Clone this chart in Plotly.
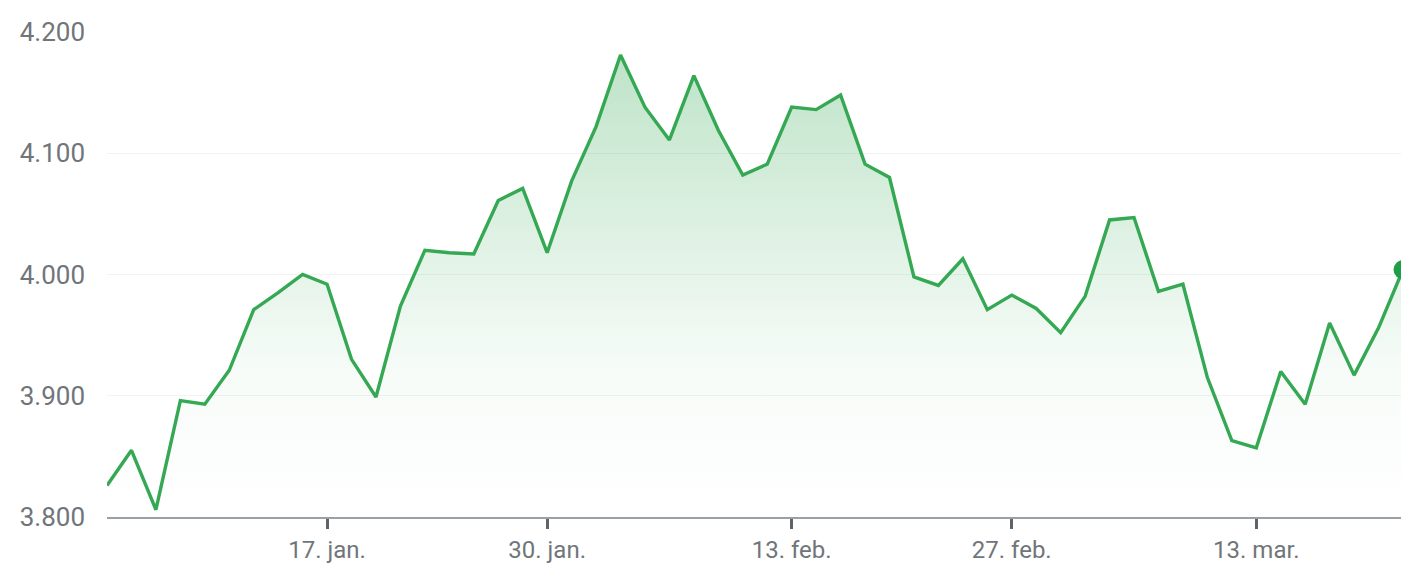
import pandas as pd
import plotly.graph_objects as go

# Trading days (US market, Jan 3 - Mar 21 2023, holidays removed)
holidays = ["2023-01-16", "2023-02-20"]
dates = [d.strftime("%Y-%m-%d") for d in pd.bdate_range("2023-01-03", "2023-03-21") if d.strftime("%Y-%m-%d") not in holidays]

values = [
    3826, 3855, 3806, 3896, 3893, 3921, 3971, 3985, 4000, 3992,
    3930, 3899, 3974, 4020, 4018, 4017, 4061, 4071, 4018, 4077,
    4122, 4181, 4138, 4111, 4164, 4119, 4082, 4091, 4138, 4136,
    4148, 4091, 4080, 3998, 3991, 4013, 3971, 3983, 3972, 3952,
    3982, 4045, 4047, 3986, 3992, 3915, 3863, 3857, 3920, 3893,
    3960, 3917, 3956, 4004,
]

tick_dates = ["2023-01-17", "2023-01-30", "2023-02-13", "2023-02-27", "2023-03-13"]
tick_labels = ["17. jan.", "30. jan.", "13. feb.", "27. feb.", "13. mar."]
y_ticks = [3800, 3900, 4000, 4100, 4200]
y_labels = ["3.800", "3.900", "4.000", "4.100", "4.200"]

line_color = "#34a853"

fig = go.Figure()
fig.add_trace(go.Scatter(
    x=dates, y=values, mode="lines",
    line=dict(color=line_color, width=3.4),
    fill="tozeroy",
    fillgradient=dict(
        type="vertical", start=3800, stop=4200,
        colorscale=[[0, "rgba(52,168,83,0.0)"], [0.3, "rgba(52,168,83,0.04)"], [1, "rgba(52,168,83,0.34)"]],
    ),
    hoverinfo="skip",
))
fig.add_trace(go.Scatter(
    x=[dates[-1]], y=[values[-1]], mode="markers",
    marker=dict(color="#1e9e47", size=19),
    cliponaxis=False, hoverinfo="skip",
))

fig.update_layout(
    width=1401, height=569,
    margin=dict(l=99, r=6, t=24, b=60),
    paper_bgcolor="white", plot_bgcolor="white",
    showlegend=False,
    font=dict(family="Roboto", size=24, color="#70757a"),
)
fig.update_xaxes(
    type="category", categoryorder="array", categoryarray=dates,
    range=[0, len(dates) - 1],
    tickmode="array", tickvals=tick_dates, ticktext=tick_labels,
    showgrid=False, showline=True, linecolor="#9aa0a6", linewidth=2,
    ticks="outside", ticklen=10, tickwidth=3, tickcolor="#5f6368",
    tickfont=dict(family="Roboto", size=24, color="#70757a"),
    zeroline=False,
)
fig.update_yaxes(
    range=[3800, 4200],
    tickmode="array", tickvals=y_ticks, ticktext=y_labels,
    showgrid=True, gridcolor="#f1f3f4", gridwidth=1,
    zeroline=False, showline=False,
    ticklabelstandoff=21,
    tickfont=dict(family="Roboto", size=26, color="#70757a"),
)

fig.write_html("out.html")
